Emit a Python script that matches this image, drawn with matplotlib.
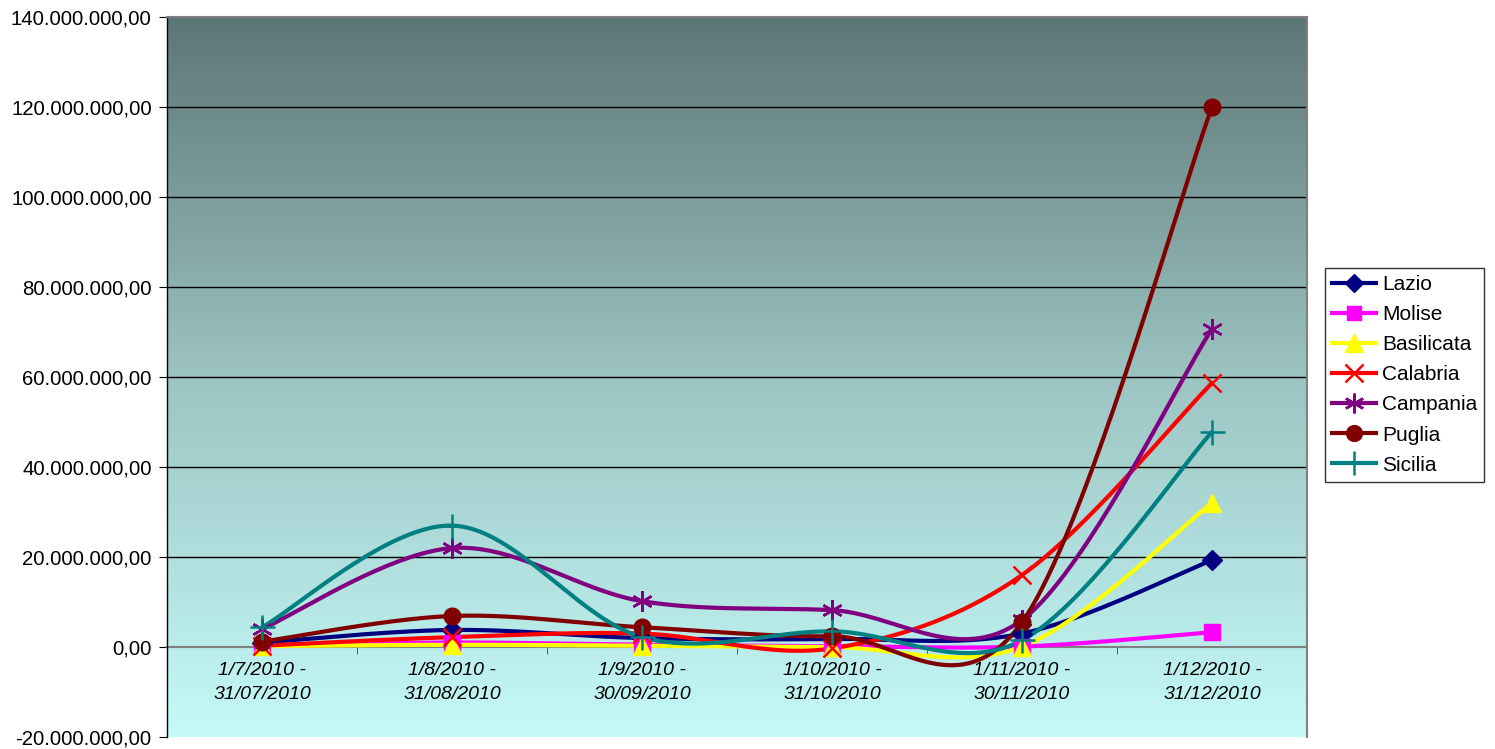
import numpy as np
import matplotlib
matplotlib.use("Agg")
import matplotlib.pyplot as plt
from matplotlib.colors import LinearSegmentedColormap
from matplotlib.ticker import FuncFormatter, MultipleLocator

plt.rcParams['font.family'] = ['Liberation Sans', 'DejaVu Sans']

categories = ["1/7/2010 -\n31/07/2010", "1/8/2010 -\n31/08/2010", "1/9/2010 -\n30/09/2010",
              "1/10/2010 -\n31/10/2010", "1/11/2010 -\n30/11/2010", "1/12/2010 -\n31/12/2010"]

lazio      = [1.0e6, 3.8e6, 2.0e6, 1.8e6, 3.0e6, 19.3e6]
molise     = [0.2e6, 1.0e6, 0.5e6, 0.2e6, 0.1e6, 3.3e6]
basilicata = [0.2e6, 0.5e6, 0.3e6, 0.0e6, 0.1e6, 32.0e6]
calabria   = [0.3e6, 2.2e6, 3.0e6, -0.3e6, 16.0e6, 58.7e6]
campania   = [4.0e6, 22.0e6, 10.2e6, 8.2e6, 6.0e6, 70.7e6]
puglia     = [1.2e6, 6.9e6, 4.4e6, 2.4e6, 5.5e6, 120.0e6]
sicilia    = [4.4e6, 27.0e6, 2.2e6, 3.5e6, 1.5e6, 47.8e6]

series = [
    ("Lazio", lazio, "#000080", "D", 10),
    ("Molise", molise, "#FF00FF", "s", 11),
    ("Basilicata", basilicata, "#FFFF00", "^", 13),
    ("Calabria", calabria, "#FF0000", "x", 13),
    ("Campania", campania, "#800080", (6, 2, 0), 15),
    ("Puglia", puglia, "#800000", "o", 12),
    ("Sicilia", sicilia, "#008080", "+", 18),
]


def smooth(x, y, n=40):
    # Excel-style smoothed line: cubic Bezier with Catmull-Rom control points (tension 1/6)
    x = np.asarray(x, float)
    y = np.asarray(y, float)
    px, py = [], []
    m = len(x)
    for i in range(m - 1):
        x0, y0 = (x[i - 1], y[i - 1]) if i > 0 else (x[i], y[i])
        x3, y3 = (x[i + 2], y[i + 2]) if i + 2 < m else (x[i + 1], y[i + 1])
        x1, y1 = x[i], y[i]
        x2, y2 = x[i + 1], y[i + 1]
        c1x, c1y = x1 + (x2 - x0) / 6, y1 + (y2 - y0) / 6
        c2x, c2y = x2 - (x3 - x1) / 6, y2 - (y3 - y1) / 6
        t = np.linspace(0, 1, n)
        bx = (1 - t) ** 3 * x1 + 3 * (1 - t) ** 2 * t * c1x + 3 * (1 - t) * t ** 2 * c2x + t ** 3 * x2
        by = (1 - t) ** 3 * y1 + 3 * (1 - t) ** 2 * t * c1y + 3 * (1 - t) * t ** 2 * c2y + t ** 3 * y2
        px.extend(bx)
        py.extend(by)
    return np.array(px), np.array(py)


fig = plt.figure(figsize=(14.95, 7.49), dpi=100)
ax = fig.add_axes([0.1117, 0.016, 0.7625, 0.961])

xs = np.arange(len(categories))
ax.set_xlim(-0.5, len(categories) - 0.5)
ax.set_ylim(-20e6, 140e6)

# gradient background
cmap = LinearSegmentedColormap.from_list("bg", ["#C4FAF8", "#9CC4C2", "#5C7675"])
grad = np.linspace(0, 1, 256).reshape(-1, 1)
ax.imshow(grad, aspect="auto", cmap=cmap, origin="lower",
          extent=[-0.5, len(categories) - 0.5, -20e6, 140e6], zorder=0)

for yv in np.arange(20e6, 140e6, 20e6):
    ax.axhline(yv, color="black", lw=1.0, zorder=1)

for name, vals, col, mk, ms in series:
    mew = 1.8 if mk in ("x", "+", (6, 2, 0)) else 1
    sx, sy = smooth(xs, vals)
    ax.plot(sx, sy, color=col, lw=3.0, zorder=3, solid_capstyle="round")
    ax.plot(xs, vals, linestyle="none", marker=mk, color=col, ms=ms, mew=mew, zorder=4)
    ax.plot([], [], color=col, lw=3.0, marker=mk, ms=ms * 0.95, mew=mew, label=name)

ax.spines['bottom'].set_position(('data', 0))
ax.spines['bottom'].set_color("#808080")
ax.spines['bottom'].set_linewidth(1.5)
ax.spines['bottom'].set_zorder(2)
for s in ("left", "right", "top"):
    ax.spines[s].set_color("#808080")
    ax.spines[s].set_linewidth(1.5)
ax.spines['left'].set_color("#000000")
ax.spines['left'].set_linewidth(1.0)

ax.set_xticks(xs)
ax.set_xticklabels(categories, style="italic", fontsize=14, linespacing=1.55)
ax.set_xticks(np.arange(-0.5, len(categories), 1), minor=True)
ax.tick_params(axis="x", which="major", length=0, pad=11)
ax.tick_params(axis="x", which="minor", length=5, color="#404040", direction="out")

ax.yaxis.set_major_locator(MultipleLocator(20e6))
ax.yaxis.set_major_formatter(FuncFormatter(
    lambda v, p: "{:,.2f}".format(v).replace(",", "X").replace(".", ",").replace("X", ".")))
ax.tick_params(axis="y", labelsize=14.7, length=6, direction="out", pad=5)

leg = ax.legend(loc="upper left", bbox_to_anchor=(1.0155, 0.6516), frameon=True, fancybox=False,
                edgecolor="black", fontsize=15, handlelength=2.1, handletextpad=0.3,
                borderpad=0.35, labelspacing=0.53, borderaxespad=0)
leg.get_frame().set_linewidth(1.0)

fig.savefig("out.png", dpi=100)
